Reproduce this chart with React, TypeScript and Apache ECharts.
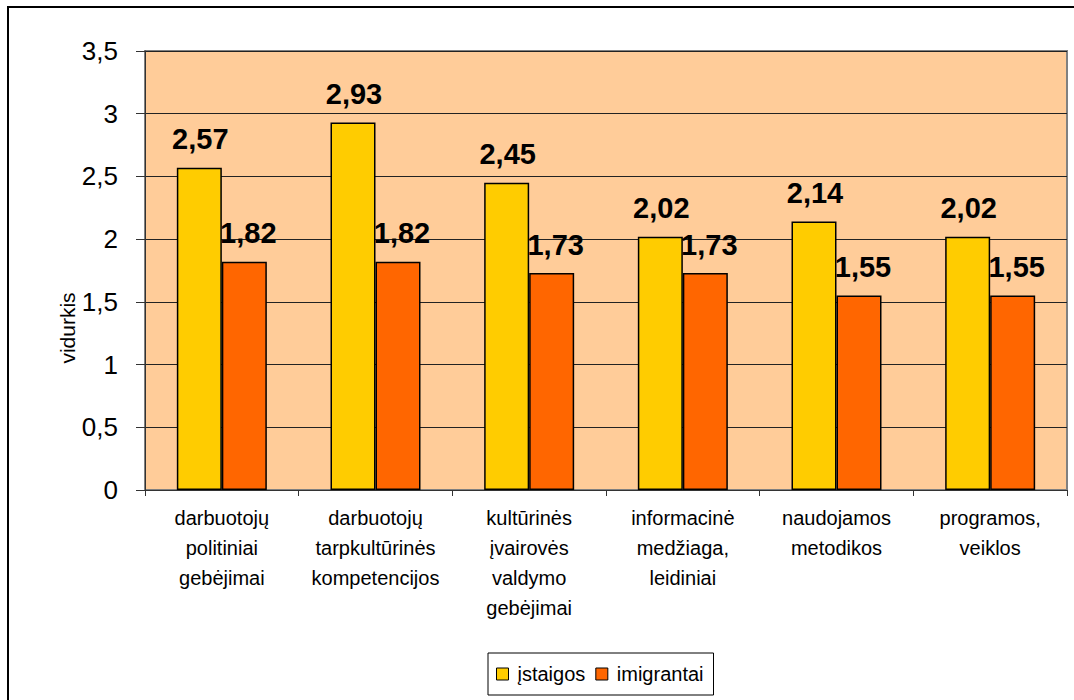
import React, { useEffect, useRef } from "react";
import * as echarts from "echarts";

const categories = [
  "darbuotojų\npolitiniai\ngebėjimai",
  "darbuotojų\ntarpkultūrinės\nkompetencijos",
  "kultūrinės\nįvairovės\nvaldymo\ngebėjimai",
  "informacinė\nmedžiaga,\nleidiniai",
  "naudojamos\nmetodikos",
  "programos,\nveiklos",
];
const istaigos = [2.57, 2.93, 2.45, 2.02, 2.14, 2.02];
const imigrantai = [1.82, 1.82, 1.73, 1.73, 1.55, 1.55];
const seriesNames = ["įstaigos", "imigrantai"];
const yAxisTitle = "vidurkis";
const yTicks = { min: 0, max: 3.5, interval: 0.5 };

const fmt = (v: number) => String(v).replace(".", ",");

export default function App() {
  const ref = useRef<HTMLDivElement>(null);
  useEffect(() => {
    if (!ref.current) return;
    const chart = echarts.init(ref.current, undefined, { renderer: "svg" });
    const font = "'Liberation Sans', Arial, sans-serif";
    const labelStyle = {
      show: true,
      position: "top" as const,
      distance: 14,
      offset: [1, 0],
      fontFamily: font,
      fontSize: 29,
      fontWeight: "bold" as const,
      color: "#000",
      formatter: (p: any) => fmt(p.value),
    };
    chart.setOption({
      animation: false,
      textStyle: { fontFamily: font },
      graphic: [
        {
          type: "rect",
          shape: { x: 1, y: 1, width: 1200, height: 900 },
          style: { fill: "none", stroke: "#000", lineWidth: 2 },
          z: 100,
        },
        {
          type: "text",
          x: 60,
          y: 322,
          rotation: Math.PI / 2,
          style: {
            text: yAxisTitle,
            fontFamily: font,
            fontSize: 21,
            fill: "#000",
            align: "center",
            verticalAlign: "middle",
          },
        },
      ],
      grid: {
        left: 138,
        right: 7,
        top: 45,
        bottom: 210,
        show: true,
        backgroundColor: "#FFCC99",
        borderColor: "#808080",
        borderWidth: 2,
      },
      legend: {
        left: 481,
        top: 647,
        orient: "horizontal",
        backgroundColor: "#fff",
        borderColor: "#000",
        borderWidth: 1,
        padding: [11, 10, 11, 8],
        itemGap: 10,
        itemWidth: 12,
        itemHeight: 12,
        icon: "rect",
        textStyle: { fontFamily: font, fontSize: 20, color: "#000", padding: [0, 0, 0, 4] },
        data: seriesNames.map((n) => ({
          name: n,
          itemStyle: { borderColor: "#000", borderWidth: 1 },
        })),
      },
      xAxis: {
        type: "category",
        data: categories,
        axisLine: { lineStyle: { color: "#333", width: 1 } },
        axisTick: { show: true, length: 6, alignWithLabel: false, lineStyle: { color: "#333" } },
        axisLabel: {
          interval: 0,
          margin: 13,
          fontFamily: font,
          fontSize: 20,
          lineHeight: 30,
          color: "#000",
        },
      },
      yAxis: {
        type: "value",
        min: yTicks.min,
        max: yTicks.max,
        interval: yTicks.interval,
        axisLine: { show: true, lineStyle: { color: "#333", width: 1 } },
        axisTick: { show: true, length: 9, lineStyle: { color: "#333" } },
        axisLabel: {
          margin: 27,
          fontFamily: font,
          fontSize: 26,
          color: "#000",
          formatter: (v: number) => fmt(v),
        },
        splitLine: { show: true, lineStyle: { color: "#222", width: 1 } },
      },
      series: [
        {
          name: seriesNames[0],
          type: "bar",
          data: istaigos,
          barWidth: 45,
          barGap: "0%",
          itemStyle: { color: "#FFCC00", borderColor: "#000", borderWidth: 1.5 },
          label: labelStyle,
        },
        {
          name: seriesNames[1],
          type: "bar",
          data: imigrantai,
          barWidth: 45,
          barGap: "0%",
          itemStyle: { color: "#FF6600", borderColor: "#000", borderWidth: 1.5 },
          label: { ...labelStyle, offset: [4, 0] },
        },
      ],
    });
    return () => chart.dispose();
  }, []);
  return (
    <div
      ref={ref}
      style={{ position: "absolute", left: 7, top: 6, width: 1067, height: 694, overflow: "hidden" }}
    />
  );
}
